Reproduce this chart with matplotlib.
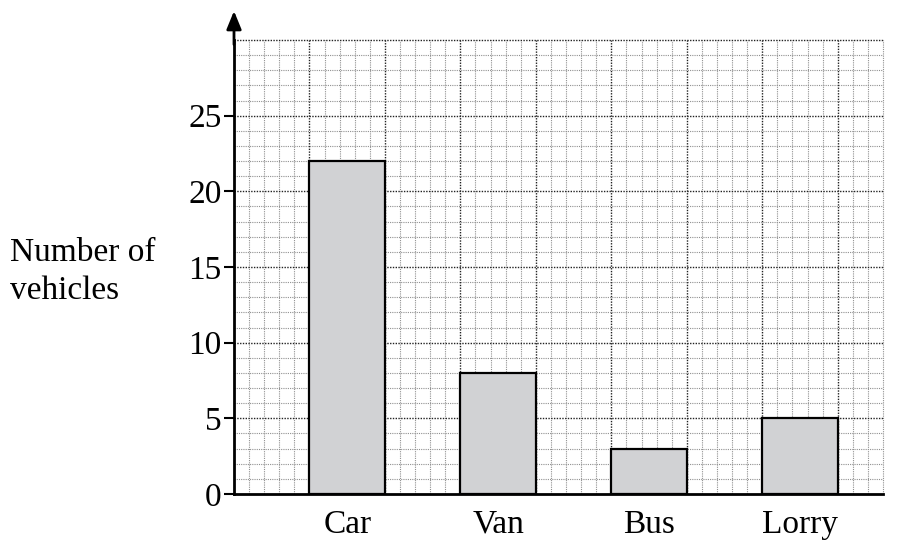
import matplotlib
matplotlib.use("Agg")
import matplotlib.pyplot as plt
import numpy as np

categories = ["Car", "Van", "Bus", "Lorry"]
values = [22, 8, 3, 5]
yticks = [0, 5, 10, 15, 20, 25]

plt.rcParams['font.family'] = ['Liberation Serif', 'DejaVu Serif']

fig = plt.figure(figsize=(9.06, 5.4), dpi=100)
ax = fig.add_axes([234/906, 46/540, 649/906, 454/540])

xmax, ymax = 43, 30
ax.set_xlim(0, xmax)
ax.set_ylim(0, ymax)

# grid
for xv in range(1, xmax + 1):
    major = xv % 5 == 0
    ax.axvline(xv, color='#222222' if major else '#909090', lw=1.0 if major else 0.8,
               ls=(0, (1, 1)), zorder=0, clip_on=False)
for yv in range(1, ymax + 1):
    major = yv % 5 == 0
    ax.axhline(yv, color='#222222' if major else '#909090', lw=1.0 if major else 0.8,
               ls=(0, (1, 1)), zorder=0, clip_on=False)

centers = [7.5 + 10 * i for i in range(len(categories))]
ax.bar(centers, values, width=5, color='#d1d2d4', edgecolor='black', linewidth=1.6, zorder=3)

for s in ['top', 'right']:
    ax.spines[s].set_visible(False)
ax.spines['left'].set_linewidth(2)
ax.spines['bottom'].set_linewidth(2)
ax.spines['left'].set_zorder(5)
ax.spines['bottom'].set_zorder(5)

ax.annotate('', xy=(0, (494 - 11) / 454), xytext=(0, 0.99), xycoords='axes fraction',
            arrowprops=dict(arrowstyle='-|>,head_length=1.1,head_width=0.45', color='black', lw=2,
                            shrinkA=0, shrinkB=0), annotation_clip=False)

ax.set_yticks(yticks)
ax.set_yticklabels([str(t) for t in yticks], fontsize=24)
ax.tick_params(axis='y', direction='out', length=7, width=1.5, pad=2)
ax.set_xticks(centers)
ax.set_xticklabels(categories, fontsize=24)
ax.tick_params(axis='x', length=0, pad=11)

fig.text(10/906, 1 - 272/540, "Number of\nvehicles", fontsize=24, ha='left', va='center',
         linespacing=1.3)

fig.savefig("out.png", dpi=100)
